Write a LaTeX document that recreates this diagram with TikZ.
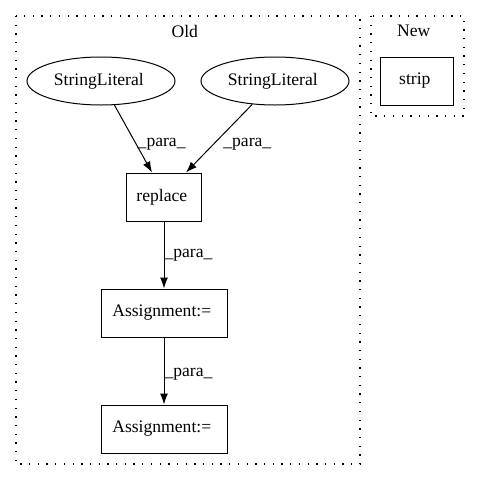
\documentclass[tikz,border=0pt]{standalone}
\usepackage{fontspec}
\setmainfont{Liberation Serif}
\usetikzlibrary{arrows.meta,shapes.geometric}

\begin{document}
\begin{tikzpicture}[x=1pt,y=-1pt,font=\fontsize{17.6}{20}\selectfont,
		every node/.style = {align=center, inner sep=0pt}]
		\tikzset{
			box/.style = { shape=rectangle, draw, line width=1pt, minimum width=75pt, minimum height=48pt },
			lit/.style = { shape=ellipse, draw, line width=1pt, minimum width=148pt, minimum height=48pt },
			cluster/.style = { line width=1.1pt, dash pattern=on 1.3pt off 7.4pt },
			para/.style = { -{Latex[length=11pt,width=8pt]}, line width=1pt },
			lbl/.style = { right },
		}
		\useasboundingbox (0,0) rectangle (480,480);
		% clusters
		\draw[cluster] (16,16) rectangle (360,464);
		\draw[cluster] (371,16) rectangle (464,116);
		\node (old) at (187,31) { Old };
		\node (new) at (416,31) { New };
		% old graph
		\node[lit] (lit1) at (101,81) { StringLiteral };
		\node[lit] (lit2) at (275,81) { StringLiteral };
		\node[box] (replace) at (164,197) { replace };
		\node[box, minimum width=126pt] (assign1) at (164,313) { Assignment:= };
		\node[box, minimum width=126pt] (assign2) at (164,429) { Assignment:= };
		% new graph
		\node[box, minimum width=73pt] (strip) at (417,81) { strip };
		\draw[para] (lit1) -- node[lbl, pos=0.58, xshift=1pt] { \_para\_ } (replace.north -| 152,0);
		\draw[para] (lit2) -- node[lbl, pos=0.58, xshift=9pt] { \_para\_ } (replace.north -| 186,0);
		\draw[para] (replace) -- node[lbl] { \_para\_ } (assign1);
		\draw[para] (assign1) -- node[lbl, pos=0.55] { \_para\_ } (assign2);
\end{tikzpicture}
\end{document}
